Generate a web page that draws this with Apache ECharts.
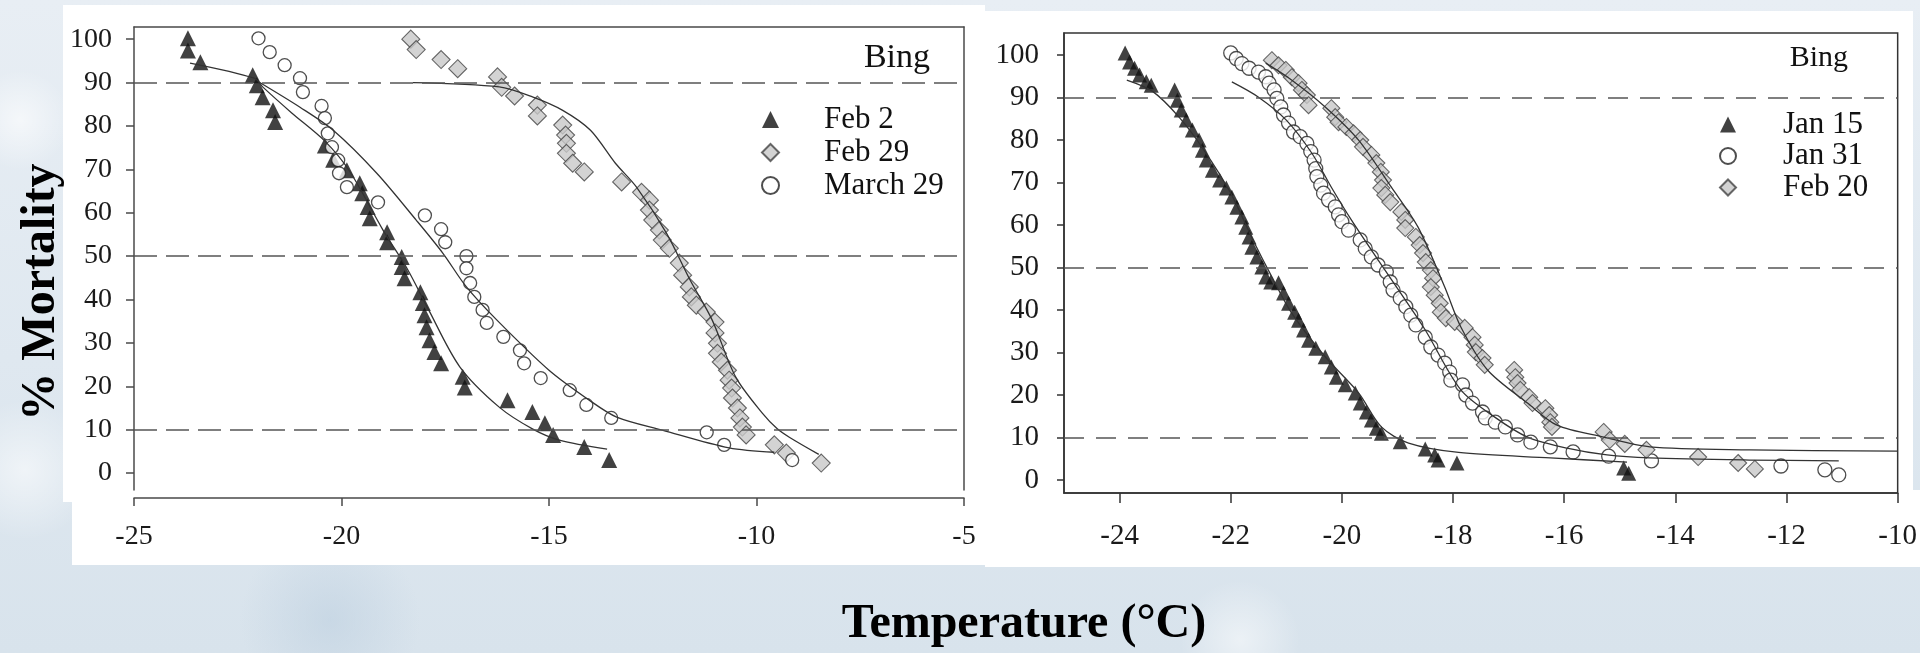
<!DOCTYPE html>
<html>
<head>
<meta charset="utf-8">
<title>Bing - % Mortality vs Temperature</title>
<script src="https://cdn.jsdelivr.net/npm/echarts@6.0.0/dist/echarts.min.js"></script>
<style>
  html, body { margin: 0; padding: 0; }
  body {
    width: 1920px; height: 653px; overflow: hidden; position: relative;
    background:
      radial-gradient(circle at 25px 470px, rgba(255,255,255,0.55), rgba(255,255,255,0) 70px),
      radial-gradient(circle at 1240px 640px, rgba(255,255,255,0.5), rgba(255,255,255,0) 60px),
      radial-gradient(circle at 330px 620px, rgba(190,208,224,0.6), rgba(190,208,224,0) 90px),
      radial-gradient(circle at 20px 120px, rgba(255,255,255,0.6), rgba(255,255,255,0) 50px),
      linear-gradient(180deg, #e8eef4 0%, #dfe8f0 55%, #d8e3ec 100%);
  }
  .panel { position: absolute; background: #fff; }
  #main { position: absolute; left: 0; top: 0; width: 1920px; height: 653px; }
</style>
</head>
<body>
<div class="panel" style="left:63px;top:5px;width:922px;height:497px"></div>
<div class="panel" style="left:72px;top:5px;width:913px;height:560px"></div>
<div class="panel" style="left:985px;top:11px;width:928px;height:556px"></div>
<div class="panel" style="left:1913px;top:490px;width:7px;height:77px"></div>
<div id="main"></div>
<script>
var serif = '"Liberation Serif", "Times New Roman", serif';

// dashed reference levels and tick values
var refLevels = [10, 50, 90];
var yTickValues = [0, 10, 20, 30, 40, 50, 60, 70, 80, 90, 100];
var rightXTickValues = [-24, -22, -20, -18, -16, -14, -12, -10];

// left panel (Feb 2 / Feb 29 / March 29)
var feb2 = [[-23.7,100.2],[-23.7,97.4],[-23.4,94.7],[-22.14,91.7],[-22.04,89.4],[-21.9,86.6],[-21.65,83.6],[-21.6,80.9],
  [-20.4,75.5],[-20.2,72.2],[-19.87,69.8],[-19.56,66.8],[-19.5,64.5],[-19.37,61.3],[-19.32,58.7],[-18.9,55.5],[-18.9,53.2],
  [-18.55,49.8],[-18.55,47.5],[-18.48,44.9],[-18.1,41.7],[-18.04,39.2],[-18.0,36.4],[-17.95,33.6],[-17.88,30.6],[-17.76,27.9],
  [-17.6,25.3],[-17.08,22.2],[-17.03,19.7],[-16.0,16.8],[-15.4,14.1],[-15.1,11.5],[-14.9,8.8],[-14.15,6.0],[-13.55,3.0]];
var feb2Fit = [[-23.65,94.5],[-22.1,91],[-21.9,89],[-21.2,83],[-20.4,76.5],[-19.8,69.5],[-19.0,56],[-18.4,46.8],[-17.9,37.6],
  [-17.15,24.5],[-16.2,15.2],[-15.4,10.2],[-14.75,7.6],[-13.6,5.5]];

var feb29 = [[-18.33,100],[-18.2,97.6],[-17.6,95.3],[-17.2,93.2],[-16.24,91.3],[-16.14,88.9],[-15.83,86.9],[-15.28,84.8],
  [-15.28,82.3],[-14.67,80.2],[-14.6,77.9],[-14.58,76],[-14.58,73.7],[-14.43,71.4],[-14.15,69.4],[-13.25,67.1],[-12.77,64.7],
  [-12.58,62.9],[-12.58,60.6],[-12.5,58.3],[-12.34,56],[-12.27,53.7],[-12.1,51.8],[-11.86,48.4],[-11.78,45.6],[-11.62,42.9],
  [-11.57,40.6],[-11.45,38.7],[-11.21,37.1],[-11.0,34.8],[-11.0,32.3],[-10.94,29.9],[-10.94,27.6],[-10.85,25.6],[-10.7,23.7],
  [-10.66,21.4],[-10.6,19.6],[-10.58,17.3],[-10.46,15],[-10.4,12.7],[-10.34,10.6],[-10.25,8.8],[-9.57,6.5],[-9.28,4.6],[-8.44,2.3]];
var feb29Fit = [[-18.28,90],[-16.2,89],[-15.4,86.7],[-14.67,83.6],[-14.0,79],[-13.4,71.4],[-12.9,66],[-12.17,55.3],[-11.6,44.5],
  [-11.07,35.3],[-10.5,22.1],[-9.86,13.8],[-9.5,10.2],[-9.2,8.2],[-8.5,4.3]];

var march29 = [[-22.0,100.2],[-21.73,97],[-21.37,94],[-21.0,91],[-20.93,87.8],[-20.48,84.6],[-20.4,81.8],[-20.33,78.3],
  [-20.23,75.1],[-20.08,72.1],[-20.06,69.1],[-19.87,65.9],[-19.12,62.4],[-17.99,59.4],[-17.6,56.2],[-17.5,53.2],[-16.99,50],
  [-16.99,47.2],[-16.9,43.8],[-16.8,40.6],[-16.6,37.6],[-16.5,34.6],[-16.1,31.4],[-15.7,28.3],[-15.6,25.3],[-15.2,21.9],
  [-14.5,19.1],[-14.1,15.7],[-13.5,12.7],[-11.2,9.4],[-10.78,6.5],[-9.14,3.0]];
var march29Fit = [[-21.97,90],[-21.0,84.3],[-20.2,79],[-19.15,69.1],[-18.2,58.3],[-17.56,50.7],[-16.99,42.9],[-16.26,35.3],
  [-15.0,23.7],[-14.03,16.8],[-13.37,12.9],[-12.27,9.9],[-10.66,5.8],[-9.57,4.8]];

// right panel (Jan 15 / Jan 31 / Feb 20)
var jan15 = [[-23.9,100.5],[-23.82,98.4],[-23.73,96.9],[-23.64,95.3],[-23.52,93.7],[-23.43,92.9],[-23.01,91.8],[-22.96,89.4],
  [-22.89,87.1],[-22.8,84.7],[-22.69,82.4],[-22.57,80],[-22.51,77.6],[-22.44,75.3],[-22.33,72.9],[-22.2,70.6],[-22.08,68.7],
  [-21.98,66.6],[-21.89,64.2],[-21.8,61.9],[-21.73,59.5],[-21.67,57.2],[-21.62,54.8],[-21.53,52.5],[-21.44,50.1],[-21.37,47.8],
  [-21.28,46.6],[-21.14,46.4],[-21.05,44],[-20.96,41.6],[-20.85,39.5],[-20.78,37.6],[-20.69,35.3],[-20.6,32.9],[-20.47,31],
  [-20.3,29],[-20.19,26.6],[-20.1,24.2],[-19.94,22.4],[-19.76,20.5],[-19.67,18.1],[-19.56,16],[-19.47,14.1],[-19.38,12.2],
  [-19.29,11],[-18.95,9],[-18.5,7.3],[-18.33,5.9],[-18.27,4.7],[-17.93,4],[-14.93,2.8],[-14.84,1.6]];
var jan15Fit = [[-23.87,94.1],[-23.4,91.4],[-22.93,85.4],[-22.5,78],[-22.0,67.5],[-21.6,56.5],[-21.26,47.8],[-20.9,39.2],
  [-20.3,29],[-19.7,20.5],[-19.29,12.5],[-18.8,8.7],[-17.9,6.5],[-16.25,5.2],[-14.87,4.2]];

var jan31 = [[-22.0,100.5],[-21.9,99.2],[-21.8,98],[-21.67,96.9],[-21.5,96],[-21.37,94.9],[-21.31,93.4],[-21.22,91.8],
  [-21.17,89.8],[-21.1,87.8],[-21.05,85.9],[-20.96,84],[-20.87,81.9],[-20.75,80.8],[-20.63,79.2],[-20.56,77.3],[-20.5,75.3],
  [-20.47,73.3],[-20.45,71.4],[-20.38,69.4],[-20.33,67.5],[-20.24,65.9],[-20.12,64.3],[-20.06,62.4],[-20.0,60.8],[-19.88,58.8],
  [-19.67,56.5],[-19.58,54.5],[-19.47,52.5],[-19.35,50.6],[-19.2,49],[-19.13,46.6],[-19.08,44.7],[-18.95,42.8],[-18.85,40.8],
  [-18.76,38.8],[-18.67,36.5],[-18.5,33.6],[-18.4,31.3],[-18.27,29.4],[-18.15,27.5],[-18.06,25.4],[-18.04,23.5],[-17.83,22.4],
  [-17.77,20],[-17.65,18.1],[-17.47,16],[-17.42,14.6],[-17.24,13.6],[-17.06,12.5],[-16.84,10.6],[-16.6,8.9],[-16.25,7.8],
  [-15.84,6.6],[-15.2,5.6],[-14.43,4.5],[-12.1,3.3],[-11.31,2.4],[-11.06,1.2]];
var jan31Fit = [[-21.98,93.7],[-21.5,90.1],[-21.0,84.7],[-20.54,76.9],[-20.19,68.9],[-19.83,61.2],[-19.35,51.8],[-18.86,42.4],
  [-18.5,35.3],[-17.86,21.2],[-17.25,14.8],[-16.66,10.1],[-15.95,7.5],[-15.23,5.9],[-14.46,5.2],[-12.67,4.7],[-11.06,4.5]];

var feb20 = [[-21.26,98.8],[-21.14,97.6],[-21.01,96.5],[-20.9,94.8],[-20.78,93.4],[-20.72,91.8],[-20.63,90.6],[-20.6,88.2],
  [-20.19,87.5],[-20.12,85.4],[-20.06,84.2],[-19.92,83.1],[-19.79,81.6],[-19.67,80],[-19.62,78.4],[-19.47,76.5],[-19.38,74.6],
  [-19.3,72.5],[-19.26,70.6],[-19.29,68.7],[-19.22,67.1],[-19.13,65.4],[-18.93,63.1],[-18.86,61.2],[-18.86,59.3],[-18.67,57.2],
  [-18.6,55.3],[-18.54,53.4],[-18.49,51.3],[-18.4,49.4],[-18.36,47.5],[-18.4,45.4],[-18.33,43.5],[-18.24,41.6],[-18.22,39.5],
  [-18.13,38.1],[-17.97,37.2],[-17.79,35.8],[-17.65,33.6],[-17.61,31.8],[-17.59,30.1],[-17.47,28.7],[-17.43,27.1],[-16.9,25.9],
  [-16.88,24.2],[-16.84,22.8],[-16.79,21.2],[-16.63,19.5],[-16.57,18.1],[-16.34,16.9],[-16.27,15.3],[-16.25,13.6],[-16.22,12.5],
  [-15.29,11.3],[-15.18,9.4],[-14.91,8.5],[-14.52,7.1],[-13.59,5.4],[-12.87,4],[-12.57,2.6]];
var feb20Fit = [[-21.37,98.1],[-20.9,94.1],[-20.3,87.8],[-19.7,80],[-19.11,68.9],[-18.63,59.5],[-18.15,45.4],[-17.86,36],
  [-17.38,25.9],[-16.66,18.1],[-16.13,12.9],[-15.29,10.1],[-14.46,7.8],[-12.67,7.1],[-10.0,6.8]];

var dom = document.getElementById('main');
var myChart = echarts.init(dom, null, {renderer: 'canvas'});

var axisColor = '#4a4a4a';
var labelStyle = {color: '#1a1a1a', fontFamily: serif};

function frameX(gridIndex, min, max) {
    return {
        gridIndex: gridIndex, type: 'value', position: 'top', min: min, max: max,
        axisLine: {show: true, onZero: false, lineStyle: {color: axisColor, width: 1.5}},
        axisTick: {show: false}, axisLabel: {show: false}, splitLine: {show: false}
    };
}
function frameY(gridIndex, min, max) {
    return {
        gridIndex: gridIndex, type: 'value', position: 'right', min: min, max: max,
        axisLine: {show: true, onZero: false, lineStyle: {color: axisColor, width: 1.5}},
        axisTick: {show: false}, axisLabel: {show: false}, splitLine: {show: false}
    };
}

// left panel markers are a bit smaller than the right ones
function scatter(name, data, xi, yi, kind, left) {
    var s = {
        name: name, type: 'scatter', xAxisIndex: xi, yAxisIndex: yi, data: data, z: 2
    };
    if (kind == 'tri') {
        s.symbol = 'triangle';
        s.symbolSize = left ? 16 : 15;
        s.itemStyle = {color: '#111'};
    } else if (kind == 'circ') {
        s.symbol = 'circle';
        s.symbolSize = left ? 13 : 14;
        s.itemStyle = {color: '#fff', borderColor: '#222', borderWidth: 1.3};
    } else {
        s.symbol = 'diamond';
        s.symbolSize = left ? 18 : 17;
        s.itemStyle = {color: '#c8c8c8', borderColor: '#444', borderWidth: 1.1};
    }
    return s;
}

function fit(data, xi, yi, dash) {
    var s = {
        name: 'fit', type: 'line', xAxisIndex: xi, yAxisIndex: yi, data: data,
        smooth: 0.3, showSymbol: false, symbol: 'none', z: 3, silent: true,
        lineStyle: {color: '#333', width: 1.3}
    };
    if (dash) {
        s.markLine = {
            silent: true, symbol: ['none', 'none'], label: {show: false},
            lineStyle: {color: '#555', width: 1.5, type: dash},
            data: refLevels.map(function(v) { return {yAxis: v}; })
        };
    }
    return s;
}

var option = {
    animation: false,
    backgroundColor: 'transparent',
    grid: [
        {left: 134, top: 27, width: 830, height: 463, show: false},
        {left: 1064, top: 33, width: 838, height: 460, show: true, borderColor: '#333', borderWidth: 1.5, backgroundColor: 'transparent'}
    ],
    xAxis: [
        {
            gridIndex: 0, type: 'value', min: -25, max: -5, interval: 5, position: 'bottom', offset: 8,
            axisLine: {show: true, onZero: false, lineStyle: {color: axisColor, width: 1.5}},
            axisTick: {show: true, inside: false, length: 8, lineStyle: {color: axisColor, width: 1.5}},
            axisLabel: Object.assign({fontSize: 28, margin: 25}, labelStyle),
            splitLine: {show: false}
        },
        frameX(0, -25, -5),
        {
            gridIndex: 1, type: 'value', min: -25, max: -10, position: 'bottom',
            axisLine: {show: true, onZero: false, lineStyle: {color: '#333', width: 1.5}},
            axisTick: {show: true, inside: false, length: 10, customValues: rightXTickValues, lineStyle: {color: '#333', width: 1.5}},
            axisLabel: Object.assign({fontSize: 29, margin: 29, customValues: rightXTickValues}, labelStyle),
            splitLine: {show: false}
        }
    ],
    yAxis: [
        {
            gridIndex: 0, type: 'value', min: -3.9, max: 102.8, position: 'left',
            axisLine: {show: true, onZero: false, lineStyle: {color: axisColor, width: 1.5}},
            axisTick: {show: true, inside: false, length: 8, customValues: yTickValues, lineStyle: {color: axisColor, width: 1.5}},
            axisLabel: Object.assign({fontSize: 28, margin: 22, customValues: yTickValues}, labelStyle),
            splitLine: {show: false}
        },
        frameY(0, -3.9, 102.8),
        {
            gridIndex: 1, type: 'value', min: -3.06, max: 105.2, position: 'left',
            axisLine: {show: true, onZero: false, lineStyle: {color: '#333', width: 1.5}},
            axisTick: {show: true, inside: false, length: 7, customValues: yTickValues, lineStyle: {color: '#333', width: 1.5}},
            axisLabel: Object.assign({fontSize: 29, margin: 25, customValues: yTickValues}, labelStyle),
            splitLine: {show: false}
        }
    ],
    legend: [
        {
            data: ['Feb 2', 'Feb 29', 'March 29'], orient: 'vertical', left: 756, top: 98,
            itemWidth: 17, itemHeight: 17, itemGap: 0, selectedMode: false,
            textStyle: {fontFamily: serif, fontSize: 31, color: '#111', lineHeight: 33, padding: [0, 0, 0, 40]}
        },
        {
            data: ['Jan 15', 'Jan 31', 'Feb 20'], orient: 'vertical', left: 1714, top: 104,
            itemWidth: 16, itemHeight: 16, itemGap: 0.5, selectedMode: false,
            textStyle: {fontFamily: serif, fontSize: 31, color: '#111', lineHeight: 31, padding: [0, 0, 0, 42]}
        }
    ],
    graphic: [
        {type: 'text', x: 930, y: 58, z: 100, silent: true,
            style: {text: 'Bing', font: '34px ' + serif, fill: '#111', align: 'right', verticalAlign: 'middle'}},
        {type: 'text', x: 1848, y: 58, z: 100, silent: true,
            style: {text: 'Bing', font: '30px ' + serif, fill: '#111', align: 'right', verticalAlign: 'middle'}},
        {type: 'text', x: 42, y: 292, rotation: Math.PI / 2, z: 100, silent: true,
            style: {text: '% Mortality', font: 'bold 48px ' + serif, fill: '#000', align: 'center', verticalAlign: 'middle'}},
        {type: 'text', x: 1024, y: 625, z: 100, silent: true,
            style: {text: 'Temperature (°C)', font: 'bold 48px ' + serif, fill: '#000', align: 'center', verticalAlign: 'middle'}}
    ],
    series: [
        scatter('Feb 2', feb2, 0, 0, 'tri', true),
        scatter('Feb 29', feb29, 0, 0, 'dia', true),
        scatter('March 29', march29, 0, 0, 'circ', true),
        fit(feb2Fit, 0, 0, [23, 9]),
        fit(feb29Fit, 0, 0),
        fit(march29Fit, 0, 0),

        scatter('Jan 15', jan15, 2, 2, 'tri', false),
        scatter('Jan 31', jan31, 2, 2, 'circ', false),
        scatter('Feb 20', feb20, 2, 2, 'dia', false),
        fit(jan15Fit, 2, 2, [20, 12]),
        fit(jan31Fit, 2, 2),
        fit(feb20Fit, 2, 2)
    ]
};

myChart.setOption(option, true);
</script>
</body>
</html>
